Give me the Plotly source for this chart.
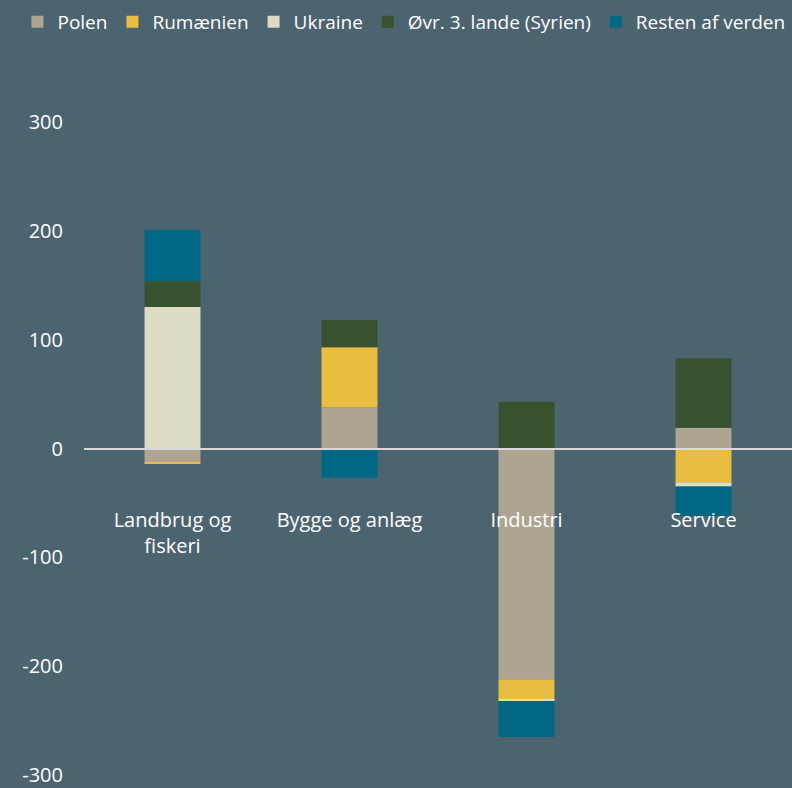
import plotly.graph_objects as go

categories = ["Landbrug og<br>fiskeri", "Bygge og anlæg", "Industri", "Service"]
series_names = ["Polen", "Rumænien", "Ukraine", "Øvr. 3. lande (Syrien)", "Resten af verden"]
polen = [-13, 38, -212, 19]
rumaenien = [-1, 55, -19, -31]
ukraine = [130, 0, -1, -4]
oevr = [24, 25, 43, 64]
resten = [47, -27, -33, -27]
tick_vals = [-300, -200, -100, 0, 100, 200, 300]
tick_text = ["-300", "-200", "-100", "0", "100", "200", "300"]

colors = ["#ada592", "#e8bd40", "#dcdbc4", "#38512f", "#006885"]
values = [polen, rumaenien, ukraine, oevr, resten]

y_range = [-307.3, 300]
zero_pos = (0 - y_range[0]) / (y_range[1] - y_range[0])

font_family = "Open Sans, Noto Sans, sans-serif"
fig = go.Figure()
for name, vals, col in zip(series_names, values, colors):
    fig.add_trace(go.Bar(x=categories, y=vals, name=name, marker=dict(color=col, line=dict(width=0))))

fig.update_layout(
    width=792, height=788,
    barmode="relative", bargap=0.684,
    paper_bgcolor="#4c6470", plot_bgcolor="#4c6470",
    margin=dict(l=84, r=0, t=122, b=0),
    font=dict(family=font_family, color="white", size=20),
    legend=dict(orientation="h", x=-0.094, xanchor="left", y=1.18, yanchor="top",
                traceorder="normal", font=dict(size=19),
                itemwidth=30, bgcolor="rgba(0,0,0,0)"),
    xaxis=dict(anchor="free", position=zero_pos, showline=True, linecolor="#d9d9d9", linewidth=2,
               layer="above traces", ticks="", ticklabelstandoff=53, showgrid=False,
               tickfont=dict(size=20, color="white")),
    yaxis=dict(range=y_range, tickvals=tick_vals, ticktext=tick_text, showgrid=False,
               zeroline=False, showline=False, ticks="", ticklabelstandoff=20,
               ticklabeloverflow="allow",
               tickfont=dict(size=20, color="white")),
)
fig.write_html("out.html", config={"displayModeBar": False},
               post_script="document.body.style.margin='0';")
